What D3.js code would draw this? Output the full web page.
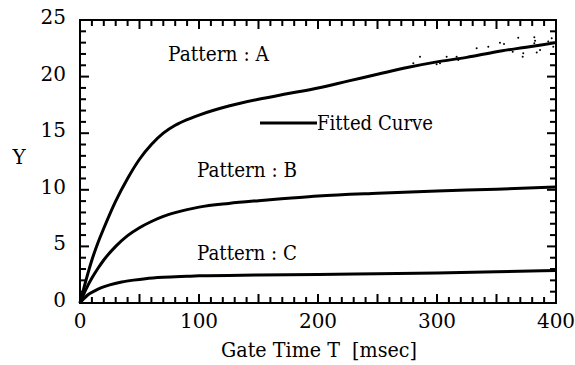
<!DOCTYPE html>
<html><head><meta charset="utf-8">
<script src="https://cdn.jsdelivr.net/npm/d3@7"></script>
<style>body{margin:0;background:#fff}svg{display:block}</style>
</head><body>
<svg id="c" width="575" height="365"></svg>
<script>
// ---- data ----
const xTicks = [0, 100, 200, 300, 400];
const yTicks = [0, 5, 10, 15, 20, 25];
const seriesNames = ["Pattern : A", "Pattern : B", "Pattern : C"];
const tA = [0, 5, 10, 15, 20, 30, 40, 50, 60, 70, 80, 90, 100, 125, 150, 175, 200, 225, 250, 275, 300, 325, 350, 375, 400];
const yA = [0, 2.0, 3.8, 5.3, 6.6, 9.0, 11.0, 12.7, 14.0, 15.0, 15.7, 16.2, 16.6, 17.4, 18.0, 18.5, 19.0, 19.6, 20.2, 20.8, 21.3, 21.7, 22.2, 22.6, 23.0];
const tB = [0, 5, 10, 15, 20, 30, 40, 50, 60, 70, 80, 90, 100, 125, 150, 175, 200, 250, 300, 350, 400];
const yB = [0, 1.2, 2.2, 3.05, 3.8, 5.0, 5.95, 6.65, 7.2, 7.65, 7.98, 8.25, 8.47, 8.8, 9.04, 9.25, 9.45, 9.7, 9.9, 10.05, 10.25];
const tC = [0, 3, 7, 12, 18, 25, 35, 45, 55, 70, 90, 100, 150, 200, 250, 300, 350, 400];
const yC = [0, 0.35, 0.75, 1.05, 1.35, 1.6, 1.85, 2.02, 2.15, 2.27, 2.36, 2.4, 2.47, 2.52, 2.58, 2.65, 2.75, 2.88];
// scattered raw data points of pattern A (visible near the end)
const dotT = [381.8, 368.3, 382.4, 381.8, 352.9, 356.3, 363.6, 372.5, 372.0, 383.8, 396.4, 393.5, 302.5, 299.7, 316.5, 317.9, 308.1, 285.7, 280.1, 333.3, 343.1, 386.6, 397.7];
const dotY = [23.47, 23.44, 23.17, 22.94, 23.0, 22.88, 22.2, 22.06, 21.76, 22.14, 23.38, 23.09, 21.17, 21.08, 21.76, 21.47, 21.76, 21.76, 21.17, 22.5, 22.64, 22.35, 22.64];
const legendLabel = "Fitted Curve";
const xTitle = "Gate Time T\u00a0\u00a0[msec]";
const yTitle = "Y";

// ---- drawing ----
const FONT = "DejaVu Serif, Liberation Serif, serif";
const svg = d3.select("#c");
const L = 80, R = 556, TOP = 20, B = 303;
const x = d3.scaleLinear().domain([0, 400]).range([L, R]);
const y = d3.scaleLinear().domain([0, 25]).range([B, TOP]);
const FS = 20;

const line = d3.line().x(d => x(d[0])).y(d => y(d[1])).curve(d3.curveMonotoneX);
const series = [[tA, yA], [tB, yB], [tC, yC]];
series.forEach(([ts, vs]) => {
  svg.append("path").datum(ts.map((t, i) => [t, vs[i]]))
    .attr("d", line).attr("fill", "none").attr("stroke", "#000")
    .attr("stroke-width", 3).attr("stroke-linejoin", "round");
});
svg.append("g").selectAll("circle").data(dotT.map((t, i) => [t, dotY[i]])).join("circle")
  .attr("cx", d => x(d[0])).attr("cy", d => y(d[1])).attr("r", 1).attr("fill", "#000");

// inward ticks on all four sides, as small filled rectangles placed by the scales
const xMinor = d3.range(10, 400, 10);
const yMinor = d3.range(1, 25, 1);
const tickRects = [];
const TW = 2;
xMinor.forEach(v => {
  const len = v % 50 === 0 ? 9 : 6;
  tickRects.push([x(v) - TW / 2, B - len, TW, len]);
  tickRects.push([x(v) - TW / 2, TOP, TW, len]);
});
yMinor.forEach(v => {
  const len = v % 5 === 0 ? 9 : 6;
  tickRects.push([L, y(v) - TW / 2, len, TW]);
  tickRects.push([R - len, y(v) - TW / 2, len, TW]);
});
tickRects.forEach(r => {
  svg.append("rect").attr("x", r[0]).attr("y", r[1]).attr("width", r[2]).attr("height", r[3])
    .attr("fill", "#000");
});

// frame
svg.append("rect").attr("x", L).attr("y", TOP).attr("width", R - L).attr("height", B - TOP)
  .attr("fill", "none").attr("stroke", "#000").attr("stroke-width", 2);

// tick labels
svg.append("g").selectAll("text").data(xTicks).join("text")
  .attr("x", d => x(d)).attr("y", B + 25).attr("text-anchor", "middle")
  .attr("font-family", FONT).attr("font-size", FS).text(d => d);
svg.append("g").selectAll("text").data(yTicks).join("text")
  .attr("x", L - 14).attr("y", d => y(d) + 4).attr("text-anchor", "end")
  .attr("font-family", FONT).attr("font-size", FS).text(d => d);

function txt(s, px, py, w) {
  return svg.append("text").attr("x", px).attr("y", py).attr("font-family", FONT)
    .attr("font-size", FS).attr("textLength", w).attr("lengthAdjust", "spacingAndGlyphs")
    .style("white-space", "pre").text(s);
}
// axis titles
txt(xTitle, 221, 357, 196);
svg.append("text").attr("x", 19).attr("y", 164).attr("text-anchor", "middle")
  .attr("font-family", FONT).attr("font-size", FS).text(yTitle);

// series labels
const labelPos = [[0, 168, 61, 101], [1, 197, 177, 100], [2, 197, 260, 100]];
labelPos.forEach(([i, px, py, w]) => txt(seriesNames[i], px, py, w));

// legend
svg.append("line").attr("x1", 260).attr("x2", 317).attr("y1", 123).attr("y2", 123)
  .attr("stroke", "#000").attr("stroke-width", 3);
txt(legendLabel, 317, 130, 116);
</script>
</body></html>
